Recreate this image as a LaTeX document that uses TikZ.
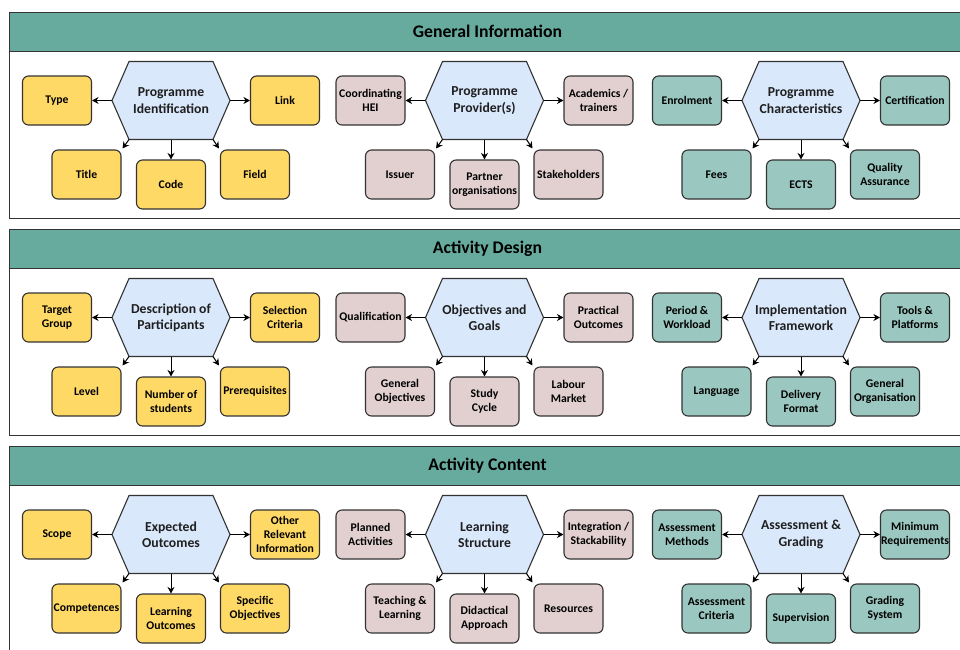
\documentclass[tikz,border=0pt]{standalone}
\usepackage{fontspec}
\setmainfont{Carlito}
\usetikzlibrary{arrows.meta,calc}
\definecolor{hdr}{HTML}{67AB9F}
\definecolor{yel}{HTML}{FFD966}
\definecolor{pnk}{HTML}{E2D0D0}
\definecolor{tea}{HTML}{9AC7BF}
\definecolor{hexf}{HTML}{DAE8FC}
\definecolor{edge}{HTML}{333333}
\tikzset{
  leaf/.style={draw=edge, line width=1.1pt, rounded corners=6pt, minimum width=69pt, minimum height=49pt, inner sep=0pt, align=center, font=\bfseries\fontsize{11.7}{14.3}\selectfont},
  yleaf/.style={leaf, fill=yel},
  pleaf/.style={leaf, fill=pnk},
  tleaf/.style={leaf, fill=tea},
  hexshape/.style={draw=edge, line width=1.1pt, fill=hexf},
  hextext/.style={minimum width=118pt, minimum height=78pt, inner sep=0pt, align=center, text=black!88, font=\bfseries\fontsize{13.7}{16.5}\selectfont},
  conn/.style={-{Stealth[length=6.5pt,width=7pt]}, line width=1pt, black},
  hdrbar/.style={draw=edge, line width=1pt, fill=hdr},
  bodybox/.style={draw=edge, line width=1pt, fill=white},
  hdrtext/.style={font=\bfseries\fontsize{17.7}{21}\selectfont}
}
\newcommand\sectpanel[3]{% name, y0, title
  \draw[bodybox] (9,#2+39) rectangle (975,#2+206);
  \draw[hdrbar] (9,#2) rectangle (975,#2+39);
  \node[hdrtext] (#1) at (487.5,#2+19.5) {#3};
}
\newcommand\hexa[4]{% name, x, y, text
  \draw[hexshape] (#2-59,#3) -- (#2-42,#3-39) -- (#2+42,#3-39) -- (#2+59,#3) -- (#2+42,#3+39) -- (#2-42,#3+39) -- cycle;
  \node[hextext] (#1) at (#2,#3) {#4};
  \coordinate (#1-cl) at (#2-42,#3+39);
  \coordinate (#1-cr) at (#2+42,#3+39);
}
\newcommand\leaves[7]{% name, style, left, right, bottom-left, bottom-mid, bottom-right
  \node[#2] (#1-l) at ($(#1)+(-114,0)$) {#3};
  \node[#2] (#1-r) at ($(#1)+(114,0)$) {#4};
  \node[#2] (#1-a) at ($(#1)+(-84.5,74)$) {#5};
  \node[#2] (#1-b) at ($(#1)+(0,84)$) {#6};
  \node[#2] (#1-c) at ($(#1)+(84,74)$) {#7};
  \draw[conn] (#1.west) -- (#1-l.east);
  \draw[conn] (#1.east) -- (#1-r.west);
  \draw[conn] (#1-cl) -- ([shift={(1,-1)}]#1-a.north east);
  \draw[conn] (#1.south) -- (#1-b.north);
  \draw[conn] (#1-cr) -- ([shift={(-1,-1)}]#1-c.north west);
}
\begin{document}
\begin{tikzpicture}[x=1pt,y=-1pt]
\useasboundingbox (0,0) rectangle (960,649);
\clip (0,0) rectangle (960,649);
% Section 1
\sectpanel{s1}{12}{General Information}
\hexa{ga}{171}{100.5}{Programme\\Identification}
\leaves{ga}{yleaf}{Type}{Link}{Title}{Code}{Field}
\hexa{gb}{484.5}{100.5}{Programme\\Provider(s)}
\leaves{gb}{pleaf}{Coordinating\\HEI}{Academics /\\trainers}{Issuer}{Partner\\organisations}{Stakeholders}
\hexa{gc}{801}{100.5}{Programme\\Characteristics}
\leaves{gc}{tleaf}{Enrolment}{Certification}{Fees}{ECTS}{Quality\\Assurance}
% Section 2
\sectpanel{s2}{229}{Activity Design}
\hexa{da}{171}{317.5}{Description of\\Participants}
\leaves{da}{yleaf}{Target\\Group}{Selection\\Criteria}{Level}{Number of\\students}{Prerequisites}
\hexa{db}{484.5}{317.5}{Objectives and\\Goals}
\leaves{db}{pleaf}{Qualification}{Practical\\Outcomes}{General\\Objectives}{Study\\Cycle}{Labour\\Market}
\hexa{dc}{801}{317.5}{Implementation\\Framework}
\leaves{dc}{tleaf}{Period \&\\Workload}{Tools \&\\Platforms}{Language}{Delivery\\Format}{General\\Organisation}
% Section 3
\sectpanel{s3}{446}{Activity Content}
\hexa{ca}{171}{534.5}{Expected\\Outcomes}
\leaves{ca}{yleaf}{Scope}{Other\\Relevant\\Information}{Competences}{Learning\\Outcomes}{Specific\\Objectives}
\hexa{cb}{484.5}{534.5}{Learning\\Structure}
\leaves{cb}{pleaf}{Planned\\Activities}{Integration /\\Stackability}{Teaching \&\\Learning}{Didactical\\Approach}{Resources}
\hexa{cc}{801}{534.5}{Assessment \&\\Grading}
\leaves{cc}{tleaf}{Assessment\\Methods}{Minimum\\Requirements}{Assessment\\Criteria}{Supervision}{Grading\\System}
\end{tikzpicture}
\end{document}
